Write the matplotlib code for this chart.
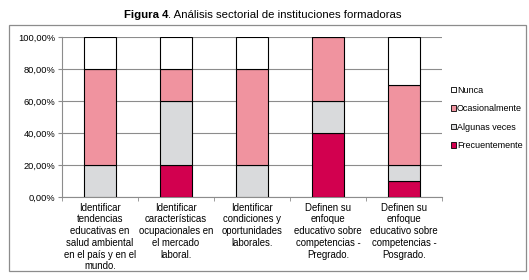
import matplotlib.pyplot as plt
from matplotlib.patches import Rectangle, Patch
from matplotlib.ticker import FuncFormatter
import numpy as np

plt.rcParams['font.family'] = ['Liberation Sans', 'DejaVu Sans']

categorias = [
    "Identificar\ntendencias\neducativas en\nsalud ambiental\nen el país y en el\nmundo.",
    "Identificar\ncaracterísticas\nocupacionales en\nel mercado\nlaboral.",
    "Identificar\ncondiciones y\noportunidades\nlaborales.",
    "Definen su\nenfoque\neducativo sobre\ncompetencias -\nPregrado.",
    "Definen su\nenfoque\neducativo sobre\ncompetencias -\nPosgrado.",
]
frecuentemente = [0, 20, 0, 40, 10]
algunas_veces = [20, 40, 20, 20, 10]
ocasionalmente = [60, 20, 60, 40, 50]
nunca = [20, 20, 20, 0, 30]

series = [
    ("Frecuentemente", frecuentemente, "#D2004F"),
    ("Algunas veces", algunas_veces, "#D9DADC"),
    ("Ocasionalmente", ocasionalmente, "#F0939F"),
    ("Nunca", nunca, "#FFFFFF"),
]

fig = plt.figure(figsize=(5.29, 2.8), dpi=100)
ax = fig.add_axes([62/529, 1 - 197/280, 380/529, 160/280])

# marco exterior
fig.patches.append(Rectangle((9/529, 1 - 271/280), 517/529, 246/280,
                             transform=fig.transFigure, fill=False,
                             edgecolor="#8c8c8c", linewidth=0.9))

x = np.arange(len(categorias))
base = np.zeros(len(categorias))
for nombre, vals, color in series:
    ax.bar(x, vals, 0.41, bottom=base, color=color, edgecolor="black",
           linewidth=0.8, zorder=3, label=nombre)
    base += np.array(vals)

ax.set_xlim(-0.5, len(categorias) - 0.5)
ax.set_ylim(0, 100)
ax.set_yticks(np.arange(0, 101, 20))
ax.yaxis.set_major_formatter(FuncFormatter(lambda v, p: f"{v:.2f}".replace(".", ",") + "%"))
ax.yaxis.grid(True, color="#8c8c8c", linewidth=0.8, zorder=0)
ax.set_xticks(x)
ax.set_xticklabels(categorias, fontsize=6.9, linespacing=1.22)
ax.set_xticks(np.arange(-0.5, len(categorias)), minor=True)
ax.tick_params(axis="x", which="major", length=0, pad=4)
ax.tick_params(axis="x", which="minor", length=3, color="#8c8c8c")
ax.tick_params(axis="y", labelsize=6.7, length=3, color="#8c8c8c", pad=2)
for s in ["top", "right"]:
    ax.spines[s].set_visible(False)
for s in ["left", "bottom"]:
    ax.spines[s].set_color("#8c8c8c")
    ax.spines[s].set_linewidth(0.8)

handles = [Patch(facecolor=c, edgecolor="black", linewidth=0.6, label=n) for n, v, c in series][::-1]
fig.legend(handles=handles, loc="center left", bbox_to_anchor=(451/529, 1 - 118/280),
           frameon=False, fontsize=6.5, handlelength=0.5, handleheight=0.5,
           handletextpad=0.15, labelspacing=1.05, borderpad=0, borderaxespad=0)

t1 = fig.text(124/529, 1 - 18/280, "Figura 4", fontsize=8.2, fontweight="bold")
ax.annotate(". Análisis sectorial de instituciones formadoras", xy=(1, 0),
            xycoords=t1, fontsize=8.2, va="bottom", ha="left", annotation_clip=False)

fig.savefig("out.png", dpi=100)
